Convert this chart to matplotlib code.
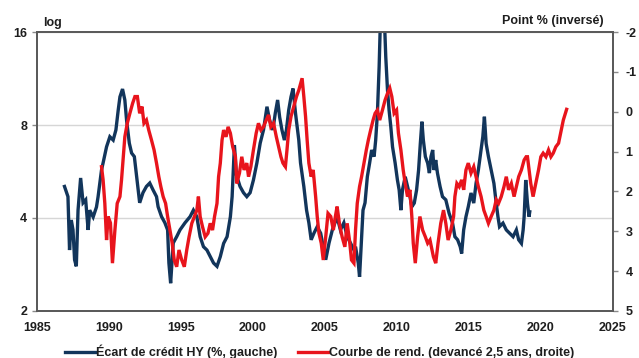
import matplotlib
matplotlib.use("Agg")
import matplotlib.pyplot as plt
from matplotlib.lines import Line2D
from matplotlib.ticker import FixedLocator, FixedFormatter, NullLocator

plt.rcParams["font.family"] = ["Liberation Sans", "DejaVu Sans"]
plt.rcParams["font.weight"] = "bold"

# High-yield credit spread (%, left log axis)
hy_years = [
    1986.91, 1987.15, 1987.26, 1987.38, 1987.50, 1987.61, 1987.73, 1987.85, 1988.03, 1988.20,
    1988.38, 1988.55, 1988.66, 1988.90, 1989.13, 1989.24, 1989.36, 1989.48, 1989.59, 1989.83,
    1990.06, 1990.29, 1990.48, 1990.64, 1990.76, 1990.94, 1991.10, 1991.22, 1991.41, 1991.57,
    1991.76, 1992.13, 1992.36, 1992.60, 1992.83, 1993.06, 1993.30, 1993.41, 1993.65, 1993.88,
    1994.07, 1994.16, 1994.28, 1994.46, 1994.70, 1994.93, 1995.28, 1995.63, 1995.86, 1996.10,
    1996.33, 1996.56, 1996.80, 1997.03, 1997.26, 1997.50, 1997.73, 1997.96, 1998.20, 1998.43,
    1998.55, 1998.71, 1998.85, 1999.10, 1999.34, 1999.57, 1999.80, 2000.03, 2000.27, 2000.50,
    2000.73, 2000.97, 2001.15, 2001.38, 2001.55, 2001.71, 2001.85, 2002.01, 2002.18, 2002.32,
    2002.48, 2002.64, 2002.78, 2002.95, 2003.18, 2003.30, 2003.53, 2003.72, 2003.88, 2004.04,
    2004.23, 2004.46, 2004.70, 2004.88, 2005.05, 2005.28, 2005.51, 2005.84, 2006.07, 2006.31,
    2006.54, 2006.77, 2007.01, 2007.12, 2007.31, 2007.40, 2007.54, 2007.64, 2007.78, 2007.94,
    2008.10, 2008.24, 2008.41, 2008.52, 2008.64, 2008.76, 2008.87, 2009.10, 2009.22, 2009.34,
    2009.45, 2009.57, 2009.69, 2009.87, 2010.03, 2010.15, 2010.27, 2010.38, 2010.57, 2010.73,
    2010.90, 2011.03, 2011.20, 2011.36, 2011.50, 2011.62, 2011.73, 2011.83, 2011.97, 2012.13,
    2012.25, 2012.36, 2012.48, 2012.57, 2012.69, 2012.81, 2012.99, 2013.16, 2013.39, 2013.62,
    2013.86, 2014.02, 2014.21, 2014.39, 2014.49, 2014.63, 2014.79, 2014.95, 2015.14, 2015.33,
    2015.49, 2015.65, 2015.84, 2015.96, 2016.07, 2016.19, 2016.35, 2016.54, 2016.73, 2016.89,
    2017.01, 2017.12, 2017.36, 2017.59, 2017.82, 2018.06, 2018.29, 2018.45, 2018.64, 2018.76,
    2018.83, 2018.94, 2019.06, 2019.17, 2019.22,
]
hy_spread = [
    5.06, 4.69, 3.15, 3.94, 3.66, 2.93, 2.79, 4.24, 5.39, 4.48,
    4.58, 3.66, 4.24, 4.03, 4.34, 4.68, 5.19, 5.72, 6.03, 6.80,
    7.33, 7.15, 7.71, 8.94, 9.87, 10.46, 9.64, 8.30, 6.99, 6.49,
    6.32, 4.48, 4.83, 5.06, 5.19, 4.93, 4.69, 4.35, 4.04, 3.86,
    3.66, 2.86, 2.46, 3.32, 3.48, 3.66, 3.86, 4.04, 4.24, 4.04,
    3.48, 3.23, 3.15, 3.00, 2.86, 2.79, 3.00, 3.31, 3.48, 4.04,
    4.69, 6.89, 5.51, 5.06, 4.83, 4.69, 4.83, 5.31, 6.03, 6.99,
    7.71, 9.17, 8.30, 7.71, 8.75, 9.64, 8.49, 7.71, 7.15, 7.71,
    8.94, 9.87, 10.50, 8.75, 7.15, 6.03, 5.06, 4.24, 3.86, 3.40,
    3.57, 3.75, 3.57, 3.23, 2.93, 3.32, 3.66, 4.03, 3.66, 3.86,
    3.48, 3.32, 3.15, 3.23, 2.86, 2.58, 3.48, 4.24, 4.48, 5.44,
    6.03, 6.64, 6.32, 7.15, 8.74, 12.36, 19.00, 19.00, 13.30, 10.38,
    8.94, 7.90, 6.80, 6.03, 5.31, 4.93, 4.24, 4.93, 5.44, 5.06,
    4.69, 4.35, 4.47, 4.93, 5.72, 6.97, 8.20, 7.15, 6.32, 6.02,
    5.59, 6.32, 6.64, 5.72, 6.16, 5.59, 5.06, 4.69, 4.58, 4.14,
    3.85, 3.48, 3.40, 3.23, 3.07, 3.66, 4.04, 4.35, 4.82, 4.47,
    5.18, 5.72, 6.64, 7.33, 8.51, 6.97, 6.32, 5.72, 5.18, 4.47,
    4.04, 3.75, 3.85, 3.66, 3.57, 3.48, 3.66, 3.40, 3.31, 3.66,
    4.04, 5.31, 4.47, 4.04, 4.19,
]

# Yield curve slope, led by 2.5 years (percentage points, right axis, inverted)
curve_years = [
    1989.48, 1989.59, 1989.71, 1989.83, 1989.94, 1990.10, 1990.24, 1990.41, 1990.57, 1990.76,
    1990.87, 1990.99, 1991.10, 1991.27, 1991.45, 1991.64, 1991.80, 1991.97, 1992.13, 1992.29,
    1992.43, 1992.60, 1992.76, 1992.95, 1993.13, 1993.30, 1993.46, 1993.60, 1993.76, 1993.93,
    1994.07, 1994.23, 1994.39, 1994.53, 1994.70, 1994.86, 1995.05, 1995.23, 1995.40, 1995.56,
    1995.75, 1995.93, 1996.10, 1996.21, 1996.33, 1996.49, 1996.68, 1996.87, 1997.03, 1997.19,
    1997.33, 1997.50, 1997.61, 1997.73, 1997.85, 1997.96, 1998.13, 1998.27, 1998.43, 1998.59,
    1998.78, 1998.87, 1999.06, 1999.22, 1999.38, 1999.57, 1999.69, 1999.85, 2000.03, 2000.22,
    2000.38, 2000.55, 2000.73, 2000.92, 2001.08, 2001.24, 2001.43, 2001.62, 2001.78, 2001.94,
    2002.08, 2002.25, 2002.36, 2002.48, 2002.64, 2002.83, 2003.02, 2003.18, 2003.41, 2003.53,
    2003.65, 2003.76, 2003.88, 2004.04, 2004.18, 2004.35, 2004.46, 2004.58, 2004.74, 2004.88,
    2005.05, 2005.21, 2005.40, 2005.58, 2005.72, 2005.84, 2006.00, 2006.19, 2006.38, 2006.54,
    2006.70, 2006.84, 2007.01, 2007.12, 2007.24, 2007.40, 2007.54, 2007.71, 2007.87, 2008.01,
    2008.17, 2008.34, 2008.48, 2008.64, 2008.80, 2008.99, 2009.17, 2009.34, 2009.50, 2009.64,
    2009.80, 2009.97, 2010.10, 2010.27, 2010.43, 2010.57, 2010.73, 2010.90, 2011.03, 2011.13,
    2011.27, 2011.43, 2011.59, 2011.78, 2011.97, 2012.13, 2012.29, 2012.53, 2012.69, 2012.85,
    2013.04, 2013.23, 2013.39, 2013.55, 2013.74, 2013.93, 2014.02, 2014.16, 2014.32, 2014.49,
    2014.63, 2014.79, 2014.95, 2015.14, 2015.33, 2015.49, 2015.65, 2015.84, 2016.03, 2016.19,
    2016.35, 2016.54, 2016.73, 2016.89, 2017.05, 2017.24, 2017.43, 2017.59, 2017.75, 2017.94,
    2018.13, 2018.29, 2018.45, 2018.64, 2018.83, 2018.97, 2019.06, 2019.17, 2019.29, 2019.45,
    2019.64, 2019.83, 2019.99, 2020.15, 2020.34, 2020.52, 2020.69, 2020.85, 2021.03, 2021.22,
    2021.31, 2021.45, 2021.55, 2021.69, 2021.78,
]
curve_slope = [
    1.38, 1.71, 2.30, 3.22, 2.63, 2.79, 3.80, 2.97, 2.30, 2.13,
    1.71, 1.13, 0.63, 0.29, 0.04, -0.21, -0.38, -0.38, 0.04, -0.13,
    0.29, 0.21, 0.46, 0.71, 0.96, 1.29, 1.63, 1.88, 2.13, 2.30,
    2.63, 2.97, 3.30, 3.72, 3.89, 3.47, 3.72, 3.89, 3.47, 3.14,
    2.80, 2.63, 2.47, 2.13, 2.63, 2.88, 3.14, 3.05, 2.80, 2.97,
    2.63, 2.30, 1.63, 1.29, 0.71, 0.46, 0.63, 0.38, 0.54, 0.88,
    1.13, 1.80, 1.54, 1.13, 1.46, 1.29, 1.63, 1.38, 0.96, 0.54,
    0.29, 0.46, 0.38, 0.21, 0.08, 0.38, 0.29, 0.63, 0.88, 1.13,
    1.29, 1.38, 0.96, 0.46, 0.12, -0.13, -0.38, -0.54, -0.84, -0.38,
    0.12, 0.71, 1.29, 1.63, 1.46, 2.13, 2.63, 3.05, 3.30, 3.72,
    3.14, 2.55, 2.63, 2.97, 2.63, 2.38, 2.80, 3.14, 3.39, 2.80,
    3.22, 3.72, 3.80, 2.97, 2.30, 1.88, 1.63, 1.29, 0.96, 0.71,
    0.46, 0.21, 0.04, -0.04, 0.21, -0.04, -0.29, -0.46, -0.59, -0.38,
    0.04, -0.04, 0.54, 0.96, 1.46, 1.80, 2.13, 1.96, 2.63, 3.30,
    3.80, 3.14, 2.63, 2.97, 3.14, 3.30, 3.22, 3.64, 3.80, 3.30,
    2.80, 2.47, 2.80, 3.22, 2.97, 2.63, 2.13, 1.80, 1.88, 1.71,
    1.96, 1.46, 1.29, 1.54, 1.38, 1.63, 1.88, 2.13, 2.47, 2.63,
    2.80, 2.63, 2.47, 2.21, 2.30, 2.13, 1.88, 1.63, 1.96, 1.80,
    2.13, 1.88, 1.63, 1.46, 1.21, 1.13, 1.13, 1.46, 1.80, 2.13,
    1.80, 1.46, 1.13, 1.04, 1.13, 0.96, 1.13, 1.04, 0.88, 0.79,
    0.63, 0.38, 0.21, 0.04, -0.06,
]

year_ticks = [1985, 1990, 1995, 2000, 2005, 2010, 2015, 2020, 2025]
left_ticks = [2, 4, 8, 16]
right_ticks = [-2, -1, 0, 1, 2, 3, 4, 5]

NAVY = "#12355b"
RED = "#e8141c"
TEXT = "#1e1e1e"
SPINE = "#5a5a5a"
FS = 9

fig = plt.figure(figsize=(6.39, 3.58), dpi=100)
ax = fig.add_axes([0.0579, 0.1313, 0.9014, 0.7793])

ax.plot(hy_years, hy_spread, color=NAVY, lw=2.4, solid_joinstyle="miter")
ax.set_yscale("log", base=2)
ax.set_ylim(2, 16)
ax.set_xlim(1985, 2025)
ax.yaxis.set_major_locator(FixedLocator(left_ticks))
ax.yaxis.set_major_formatter(FixedFormatter([str(t) for t in left_ticks]))
ax.yaxis.set_minor_locator(NullLocator())
ax.set_xticks(year_ticks)
ax.set_xticklabels([str(t) for t in year_ticks])
ax.grid(axis="y", color="#d6d6d6", lw=1.0)
ax.set_axisbelow(True)

ax2 = ax.twinx()
ax2.plot(curve_years, curve_slope, color=RED, lw=2.4, solid_joinstyle="miter")
ax2.set_ylim(5, -2)
ax2.set_yticks(right_ticks)
ax2.set_yticklabels([str(t) for t in right_ticks])

for a in (ax, ax2):
    for s in a.spines.values():
        s.set_color(SPINE)
        s.set_linewidth(1.3)

ax.tick_params(axis="y", length=3.5, width=1, color="#8a8a8a", pad=3.5,
               labelsize=FS, labelcolor=TEXT)
ax.tick_params(axis="x", length=0, pad=8, labelsize=FS, labelcolor=TEXT)
ax2.tick_params(axis="y", length=3.5, width=1, color="#8a8a8a", pad=5.5,
                labelsize=FS, labelcolor=TEXT)

fig.text(43 / 639, 1 - 23 / 358, "log", ha="left", va="center",
         fontsize=FS, fontweight="bold", color=TEXT)
fig.text(604 / 639, 1 - 21 / 358, "Point % (inversé)", ha="right", va="center",
         fontsize=FS, fontweight="bold", color=TEXT)

handles = [Line2D([], [], color=NAVY, lw=2.4), Line2D([], [], color=RED, lw=2.4)]
labels = ["Écart de crédit HY (%, gauche)", "Courbe de rend. (devancé 2,5 ans, droite)"]
fig.legend(handles, labels, loc="center", bbox_to_anchor=(0.5, 0.017), ncol=2,
           frameon=False, handlelength=2.4, handletextpad=0.1, columnspacing=1.6,
           prop={"size": FS, "weight": "bold"}, labelcolor=TEXT, borderaxespad=0)

fig.savefig("out.png", dpi=100)
